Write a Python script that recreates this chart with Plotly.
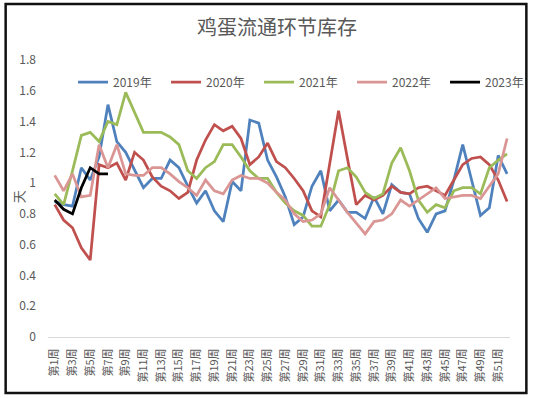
import plotly.graph_objects as go

weeks = [f"第{i}周" for i in range(1, 53)]
tick_labels = [f"第{i}周" for i in range(1, 53, 2)]

y2019 = [0.88, 0.86, 0.85, 1.10, 1.02, 1.17, 1.51, 1.27, 1.20, 1.09,
         0.97, 1.03, 1.03, 1.15, 1.10, 0.98, 0.87, 0.95, 0.82, 0.75,
         1.01, 0.95, 1.41, 1.39, 1.15, 1.04, 0.91, 0.73, 0.78, 0.98,
         1.08, 0.82, 0.89, 0.81, 0.81, 0.77, 0.91, 0.80, 0.99, 0.94,
         0.93, 0.77, 0.68, 0.80, 0.82, 1.02, 1.25, 1.02, 0.79, 0.84, 1.18, 1.06]
y2020 = [0.86, 0.76, 0.71, 0.58, 0.50, 1.12, 1.10, 1.13, 1.02, 1.20,
         1.15, 1.04, 0.98, 0.95, 0.90, 0.94, 1.15, 1.28, 1.38, 1.34,
         1.37, 1.29, 1.12, 1.17, 1.26, 1.14, 1.10, 1.03, 0.95, 0.82,
         0.78, 1.12, 1.47, 1.16, 0.86, 0.92, 0.89, 0.92, 0.98, 0.94,
         0.93, 0.97, 0.98, 0.95, 0.92, 1.02, 1.12, 1.16, 1.17, 1.12, 1.02, 0.88]
y2021 = [0.93, 0.86, 1.08, 1.31, 1.33, 1.27, 1.40, 1.38, 1.59, 1.46,
         1.33, 1.33, 1.33, 1.30, 1.25, 1.08, 1.03, 1.10, 1.14, 1.25,
         1.25, 1.17, 1.08, 1.03, 1.03, 0.94, 0.87, 0.82, 0.79, 0.72,
         0.72, 0.86, 1.08, 1.10, 1.04, 0.94, 0.90, 0.93, 1.13, 1.23,
         1.08, 0.89, 0.81, 0.86, 0.84, 0.95, 0.97, 0.97, 0.93, 1.10, 1.15, 1.19]
y2022 = [1.05, 0.95, 1.06, 0.91, 0.92, 1.25, 1.10, 1.25, 1.06, 1.05,
         1.05, 1.10, 1.10, 1.06, 1.01, 0.97, 0.92, 1.02, 0.95, 0.93,
         1.02, 1.05, 1.03, 1.03, 1.00, 0.94, 0.89, 0.80, 0.75, 0.76,
         0.80, 0.97, 0.89, 0.81, 0.74, 0.67, 0.75, 0.76, 0.80, 0.89,
         0.85, 0.89, 0.93, 0.97, 0.90, 0.91, 0.92, 0.92, 0.90, 0.98, 1.06, 1.29]
y2023 = [0.89, 0.83, 0.80, 0.97, 1.10, 1.06, 1.06]

series = [
    ("2019年", y2019, "#4F81BD"),
    ("2020年", y2020, "#C0504D"),
    ("2021年", y2021, "#9BBB59"),
    ("2022年", y2022, "#DA9694"),
    ("2023年", y2023, "#000000"),
]

FONT = "Noto Sans CJK SC"
GREY = "#595959"

fig = go.Figure()
for name, vals, color in series:
    fig.add_trace(go.Scatter(
        x=weeks[:len(vals)], y=vals, name=name, mode="lines",
        line=dict(color=color, width=2.75),
    ))

# plot area in pixels: x 48..528, y 60..337
L, R, T, B = 48, 22, 60, 61
W, H = 550, 398
pw, ph = W - L - R, H - T - B

def px(xp):
    return (xp - L) / pw

def py(yp):
    return (H - B - yp) / ph

fig.update_layout(
    width=W, height=H,
    margin=dict(l=L, r=R, t=T, b=B),
    paper_bgcolor="white", plot_bgcolor="white",
    font=dict(family=FONT, color=GREY, size=12),
    title=dict(text="鸡蛋流通环节库存", x=277 / W, xanchor="center",
               y=1 - 28 / H, yanchor="middle",
               font=dict(size=20, color=GREY, family=FONT)),
    showlegend=True,
    legend=dict(orientation="h", x=px(74), xanchor="left", y=py(82), yanchor="middle",
                font=dict(size=12, color=GREY, family=FONT),
                bgcolor="rgba(0,0,0,0)", entrywidth=48, itemwidth=30),
    xaxis=dict(
        type="category", categoryorder="array", categoryarray=weeks,
        range=[-0.76, 51.33],
        tickmode="array", tickvals=tick_labels, ticktext=tick_labels,
        tickangle=-90, tickfont=dict(size=11, color=GREY, family=FONT),
        showgrid=False, zeroline=False,
        showline=True, linecolor="#D9D9D9", linewidth=1,
        ticks="", ticklabelstandoff=6,
    ),
    yaxis=dict(
        range=[0, 1.8], dtick=0.2, tick0=0,
        showgrid=False, zeroline=False, showline=False,
        tickfont=dict(size=12, color=GREY, family=FONT),
        ticks="", ticklabelstandoff=11,
    ),
    annotations=[dict(text="天", xref="paper", yref="paper",
                      x=px(17), y=py(197), xanchor="center", yanchor="middle",
                      showarrow=False, textangle=-90,
                      font=dict(size=13, color=GREY, family=FONT))],
    shapes=[dict(type="rect", xref="paper", yref="paper",
                 x0=px(4), x1=px(545), y0=py(393), y1=py(4),
                 line=dict(color="#111111", width=2.5), layer="above")],
)

fig.write_html("out.html", config={"displayModeBar": False},
               post_script="document.body.style.margin='0';document.body.style.overflow='hidden';")
